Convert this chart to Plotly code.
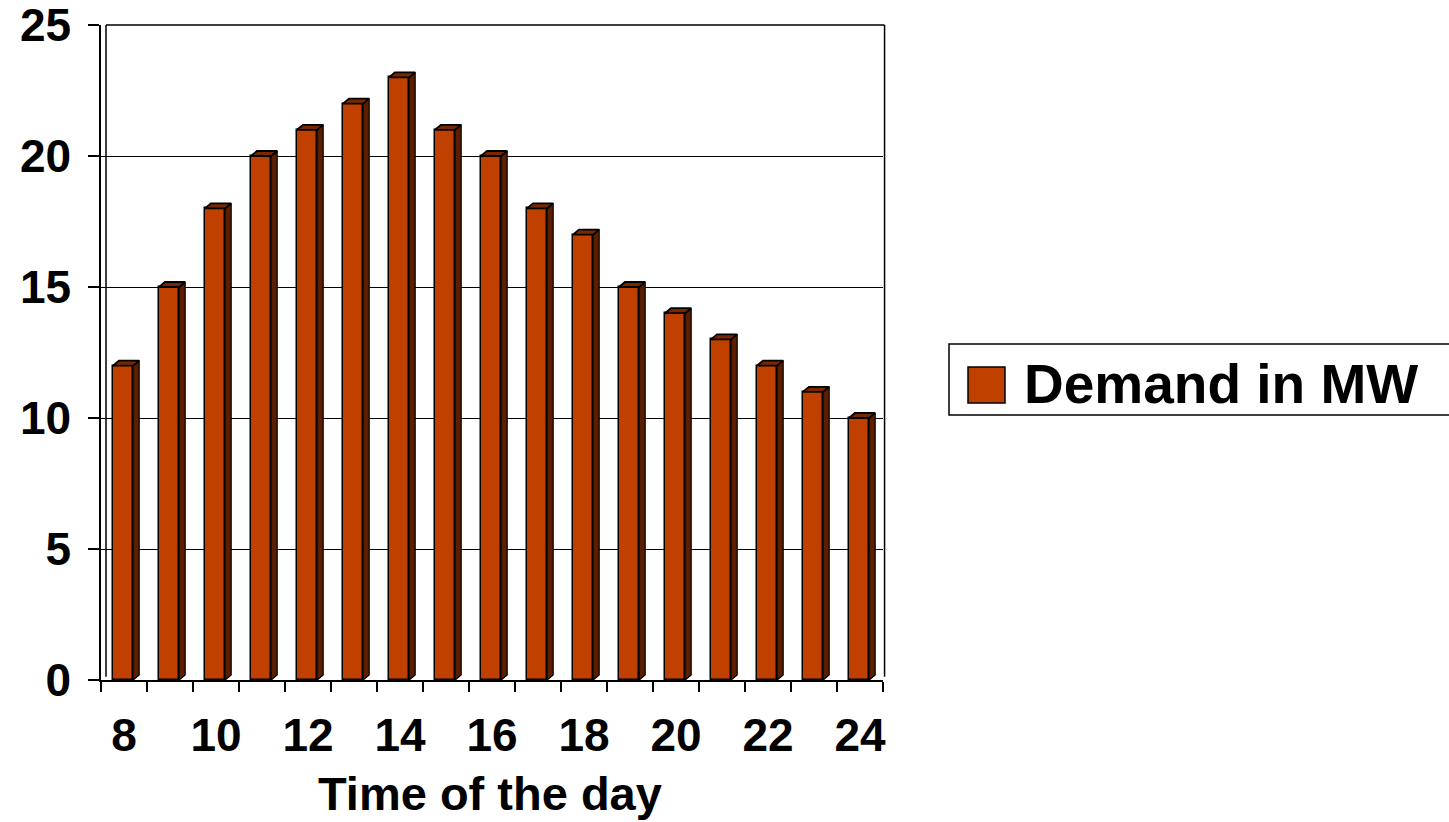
import plotly.graph_objects as go

hours = [8, 9, 10, 11, 12, 13, 14, 15, 16, 17, 18, 19, 20, 21, 22, 23, 24]
demand = [12, 15, 18, 20, 21, 22, 23, 21, 20, 18, 17, 15, 14, 13, 12, 11, 10]
label_hours = [8, 10, 12, 14, 16, 18, 20, 22, 24]
y_ticks = [0, 5, 10, 15, 20, 25]

FRONT = "rgb(192,64,0)"
SIDE = "rgb(92,30,0)"
FONT = "Liberation Sans"

bar_w = 0.44
bar_off = -0.24
dx = 0.13
dy = 0.19

fig = go.Figure()
fig.add_trace(go.Bar(
    x=hours, y=demand, width=bar_w, offset=bar_off,
    marker=dict(color=FRONT, line=dict(color="black", width=1.5)),
    showlegend=False, hoverinfo="skip"))

sx, sy, tx, ty = [], [], [], []
for h, v in zip(hours, demand):
    l = h + bar_off
    r = l + bar_w
    sx += [r, r + dx, r + dx, r, r, None]
    sy += [0, dy, v + dy, v, 0, None]
    tx += [l, l + dx, r + dx, r, l, None]
    ty += [v, v + dy, v + dy, v, v, None]

fig.add_trace(go.Scatter(x=sx, y=sy, mode="lines", fill="toself", fillcolor=SIDE,
                         line=dict(color="black", width=1.2), showlegend=False, hoverinfo="skip"))
fig.add_trace(go.Scatter(x=tx, y=ty, mode="lines", fill="toself", fillcolor="rgb(120,40,0)",
                         line=dict(color="black", width=1.8), showlegend=False, hoverinfo="skip"))
# dummy trace for the label axis
fig.add_trace(go.Scatter(x=[hours[0]], y=[0], xaxis="x2", mode="markers",
                         marker=dict(opacity=0), showlegend=False, hoverinfo="skip"))

xr = [hours[0] - 0.5, hours[-1] + 0.5]
fig.update_layout(
    width=1449, height=822,
    margin=dict(l=101, r=566, t=25, b=142, autoexpand=False),
    paper_bgcolor="white", plot_bgcolor="white",
    showlegend=False,
    bargap=0,
    xaxis=dict(range=xr, tickvals=[h - 0.5 for h in hours] + [hours[-1] + 0.5],
               showticklabels=False, ticks="outside", ticklen=10, tickcolor="black",
               tickwidth=1.5, showline=True, linecolor="black", linewidth=1.5,
               showgrid=False, zeroline=False, automargin=False),
    xaxis2=dict(range=xr, overlaying="x", anchor="y", side="bottom",
                tickvals=label_hours, ticktext=[str(h) for h in label_hours],
                ticks="", ticklabelstandoff=24, showgrid=False, zeroline=False, showline=False,
                automargin=False, ticklabeloverflow="allow",
                tickfont=dict(family=FONT, size=46, color="black", weight="bold")),
    yaxis=dict(range=[0, 25.0001], tickvals=y_ticks, ticks="outside", ticklen=11,
               tickcolor="black", tickwidth=1.5, showline=True, linecolor="black",
               linewidth=1.5, showgrid=True, gridcolor="black", gridwidth=1.2,
               zeroline=False, ticklabelstandoff=8, automargin=False,
               ticklabeloverflow="allow",
               tickfont=dict(family=FONT, size=46, color="black", weight="bold")),
)

shapes = [
    dict(type="line", xref="paper", yref="paper", x0=0.0064, x1=0.0064, y0=0.005, y1=1.0,
         line=dict(color="black", width=1.5)),
    dict(type="line", xref="paper", yref="paper", x0=1.002, x1=1.002, y0=0.005, y1=1.0,
         line=dict(color="black", width=1.5)),
    dict(type="line", xref="paper", yref="paper", x0=0.0064, x1=1.002, y0=1.0, y1=1.0,
         line=dict(color="black", width=1.5)),
    # legend box
    dict(type="rect", xref="paper", yref="paper", x0=1.0844, x1=1.75, y0=0.4046, y1=0.513,
         line=dict(color="black", width=1.5), fillcolor="white"),
    dict(type="rect", xref="paper", yref="paper", x0=1.1087, x1=1.156, y0=0.4229, y1=0.4779,
         line=dict(color="black", width=1.5), fillcolor=FRONT),
]
fig.update_layout(shapes=shapes)

fig.add_annotation(text="Demand in MW", xref="paper", yref="paper", x=1.178, y=0.452,
                   xanchor="left", yanchor="middle", showarrow=False,
                   font=dict(family=FONT, size=55, color="black", weight="bold"))
fig.add_annotation(text="Time of the day", xref="paper", yref="paper", x=0.497, y=-0.174,
                   xanchor="center", yanchor="middle", showarrow=False,
                   font=dict(family=FONT, size=47, color="black", weight="bold"))

fig.write_html("out.html", config={"displayModeBar": False},
               post_script="document.body.style.margin='0';document.body.style.overflow='hidden';")
